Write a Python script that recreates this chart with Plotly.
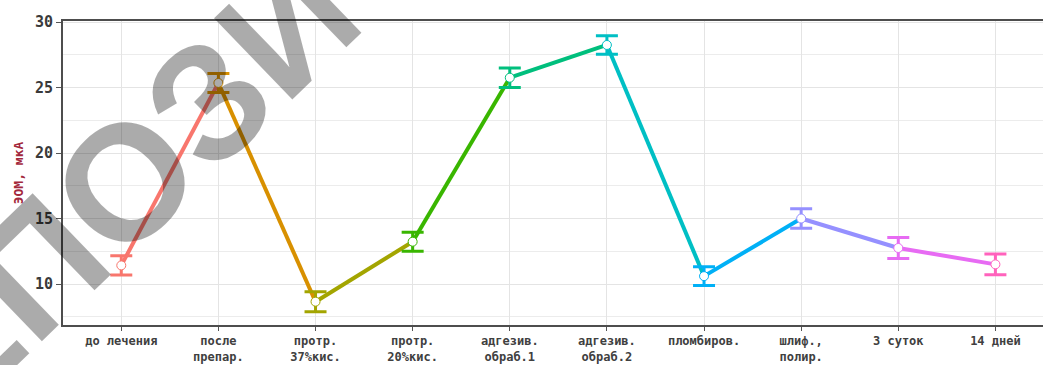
import plotly.graph_objects as go

# Measurement stages (x axis categories)
categories = [
    "до лечения",
    "после<br>препар.",
    "протр.<br>37%кис.",
    "протр.<br>20%кис.",
    "адгезив.<br>обраб.1",
    "адгезив.<br>обраб.2",
    "пломбиров.",
    "шлиф.,<br>полир.",
    "3 суток",
    "14 дней",
]

# Mean EOM values, µA, and their error half-widths
means = [11.42, 25.35, 8.65, 13.23, 25.75, 28.25, 10.6, 15.0, 12.75, 11.5]
errors = [0.73, 0.73, 0.76, 0.72, 0.75, 0.70, 0.72, 0.74, 0.80, 0.80]

# One hue per stage
colors = [
    "#F8766D", "#D89000", "#A3A500", "#39B600", "#00BF7D",
    "#00BFC4", "#00B0F6", "#9590FF", "#E76BF3", "#FF62BC",
]

y_ticks = [10, 15, 20, 25, 30]

mono = "DejaVu Sans Mono"

fig = go.Figure()

# Coloured line segments between consecutive stages
for i in range(len(categories) - 1):
    fig.add_trace(go.Scatter(
        x=[categories[i], categories[i + 1]],
        y=[means[i], means[i + 1]],
        mode="lines",
        line=dict(color=colors[i], width=4),
        hoverinfo="skip",
        showlegend=False,
    ))

# Points with error bars
for i, cat in enumerate(categories):
    fig.add_trace(go.Scatter(
        x=[cat],
        y=[means[i]],
        mode="markers",
        marker=dict(symbol="circle", size=9, color="white",
                    line=dict(color=colors[i], width=1)),
        error_y=dict(type="data", array=[errors[i]], visible=True,
                     color=colors[i], thickness=3, width=11),
        showlegend=False,
    ))

# Repository watermark across the chart
fig.add_annotation(
    text="РЕПОЗИТОРИЙ",
    xref="paper", yref="paper",
    x=0.230, y=0.99,
    xanchor="center", yanchor="middle",
    textangle=-44,
    showarrow=False,
    font=dict(family="Liberation Sans", size=164, color="rgba(0,0,0,0.33)",
              weight="bold"),
)

fig.update_layout(
    width=1043, height=365,
    margin=dict(l=63, r=0, t=21, b=40),
    plot_bgcolor="white",
    paper_bgcolor="white",
    xaxis=dict(
        type="category",
        categoryorder="array",
        categoryarray=categories,
        range=[-0.6, 9.49],
        showgrid=True, gridcolor="#e4e4e4", gridwidth=1,
        showline=True, linecolor="#4d4d4d", linewidth=2, mirror=True,
        ticks="outside", ticklen=4, tickcolor="#555555",
        tickfont=dict(family=mono, size=12, color="#404040", weight="bold"),
        zeroline=False,
    ),
    yaxis=dict(
        range=[6.87, 30.08],
        tickvals=y_ticks,
        showgrid=True, gridcolor="#e4e4e4", gridwidth=1,
        minor=dict(dtick=2.5, tick0=0, showgrid=True, gridcolor="#ececec",
                   gridwidth=1),
        showline=True, linecolor="#4d4d4d", linewidth=2, mirror=False,
        ticks="outside", ticklen=5, tickcolor="#555555",
        tickfont=dict(family=mono, size=15, color="#3a3a3a", weight="bold"),
        title=dict(text="ЭОМ, мкА", standoff=8,
                   font=dict(family=mono, size=13, color="#a3283c",
                             weight="bold")),
        zeroline=False,
    ),
)

fig.write_html("out.html")
